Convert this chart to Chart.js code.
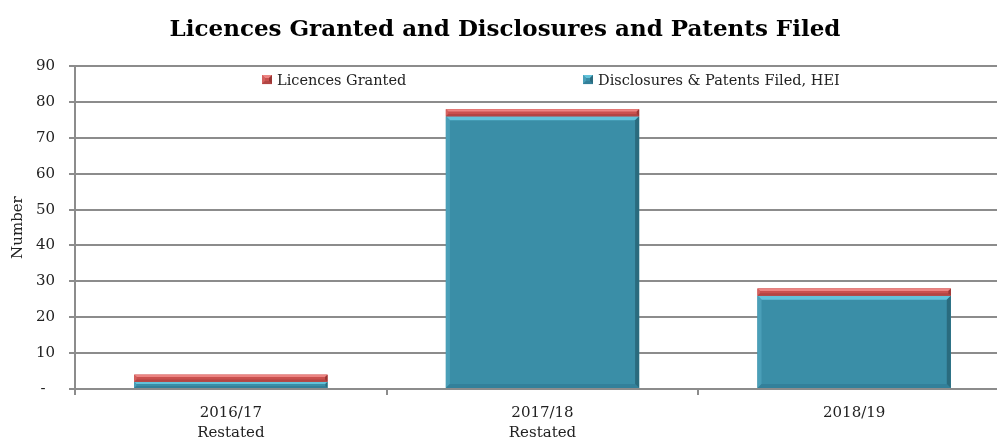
<!DOCTYPE html>
<html>
<head>
<meta charset="utf-8">
<script src="https://cdn.jsdelivr.net/npm/chart.js@4/dist/chart.umd.min.js"></script>
<style>
   html, body { margin: 0; padding: 0; background: #fff; overflow: hidden; }
   #wrap { width: 1010px; height: 438px; }
</style>
</head>
<body>
<div id="wrap"><canvas id="chart" width="1010" height="438"></canvas></div>
<script>
// -----------------------------------------------------------------------------
// data
// -----------------------------------------------------------------------------
var years       = [['2016/17', 'Restated'], ['2017/18', 'Restated'], '2018/19'];
var disclosures = [2, 76, 26];
var licences    = [2, 2, 2];
var yTicks      = [0, 10, 20, 30, 40, 50, 60, 70, 80, 90];

var FONT = '"DejaVu Serif", "Liberation Serif", serif';

// bar colours: main fill, light top edge, light left edge, dark right edge, bottom edge
var tealFill = {main: '#3a8ea7', light: '#62c2da', side: '#4a9fb8', dark: '#2a6b7e', low: '#33809a'};
var redFill  = {main: '#c9504e', light: '#ec8482', side: '#d4605e', dark: '#9a3634', low: '#b24543'};

// draws a bevelled rectangle (top light, right side dark)
function bevelRect(ctx, left, top, right, bottom, c) {
   var h = bottom - top;
   var b = Math.min(4, h / 3);
   ctx.save();
   ctx.fillStyle = c.main;
   ctx.fillRect(left, top, right - left, h);

   ctx.fillStyle = c.light;
   ctx.beginPath();
   ctx.moveTo(left, top); ctx.lineTo(right, top);
   ctx.lineTo(right - b, top + b); ctx.lineTo(left + b, top + b);
   ctx.closePath(); ctx.fill();

   ctx.fillStyle = c.side;
   ctx.beginPath();
   ctx.moveTo(left, top); ctx.lineTo(left + b, top + b);
   ctx.lineTo(left + b, bottom - b); ctx.lineTo(left, bottom);
   ctx.closePath(); ctx.fill();

   ctx.fillStyle = c.low;
   ctx.beginPath();
   ctx.moveTo(left, bottom); ctx.lineTo(right, bottom);
   ctx.lineTo(right - b, bottom - b); ctx.lineTo(left + b, bottom - b);
   ctx.closePath(); ctx.fill();

   ctx.fillStyle = c.dark;
   ctx.beginPath();
   ctx.moveTo(right, top); ctx.lineTo(right, bottom);
   ctx.lineTo(right - b, bottom - b); ctx.lineTo(right - b, top + b);
   ctx.closePath(); ctx.fill();
   ctx.restore();
}

// replace the flat bars by bevelled ones
var bevelBars = {
   id: 'bevelBars',
   afterDatasetsDraw: function(chart) {
      var ctx = chart.ctx;
      chart.data.datasets.forEach(function(ds, i) {
         var meta = chart.getDatasetMeta(i);
         meta.data.forEach(function(bar) {
            var p = bar.getProps(['x', 'y', 'base', 'width'], true);
            var top = Math.min(p.y, p.base), bottom = Math.max(p.y, p.base);
            bevelRect(ctx, p.x - p.width / 2, top, p.x + p.width / 2, bottom, ds.bevel);
         });
      });
   }
};

// legend drawn inside the plot area, top series first
var innerLegend = {
   id: 'innerLegend',
   afterDraw: function(chart) {
      var ctx = chart.ctx;
      var area = chart.chartArea;
      var xs = [area.left + 187, area.left + 508];
      var items = chart.data.datasets.slice().reverse();
      ctx.save();
      ctx.font = '14.5px ' + FONT;
      ctx.textBaseline = 'alphabetic';
      items.forEach(function(ds, i) {
         var x = xs[i], y = area.top + 9;
         bevelRect(ctx, x, y, x + 10, y + 9, ds.bevel);
         ctx.fillStyle = '#222';
         ctx.fillText(ds.label, x + 15, area.top + 19);
      });
      ctx.restore();
   }
};

var chart = new Chart(document.getElementById('chart'), {
   type: 'bar',
   data: {
      labels: years,
      datasets: [{
         label: 'Disclosures & Patents Filed, HEI',
         data: disclosures,
         backgroundColor: tealFill.main,
         bevel: tealFill
      }, {
         label: 'Licences Granted',
         data: licences,
         backgroundColor: redFill.main,
         bevel: redFill
      }]
   },
   options: {
      responsive: false,
      animation: false,
      devicePixelRatio: 1,
      layout: { padding: 0 },
      categoryPercentage: 1,
      barPercentage: 0.62,
      plugins: {
         legend: { display: false },
         tooltip: { enabled: false },
         title: {
            display: true,
            text: 'Licences Granted and Disclosures and Patents Filed',
            color: '#000',
            font: { family: FONT, size: 23, weight: 'bold' },
            padding: { top: 16, bottom: 22.5 },
            fullSize: true
         }
      },
      scales: {
         x: {
            stacked: true,
            grid: {
               offset: true,
               drawOnChartArea: false,
               drawTicks: true,
               tickLength: 6,
               color: '#8c8c8c',
               lineWidth: 2
            },
            border: { color: '#8c8c8c', width: 2 },
            ticks: {
               color: '#222',
               font: { family: FONT, size: 15, lineHeight: 1.35 },
               padding: 8,
               maxRotation: 0
            },
            afterFit: function(scale) { scale.height = 49; }
         },
         y: {
            stacked: true,
            min: 0,
            max: 90,
            afterBuildTicks: function(scale) {
               scale.ticks = yTicks.map(function(v) { return {value: v}; });
            },
            grid: {
               color: '#8c8c8c',
               lineWidth: 2,
               tickLength: 6
            },
            border: { color: '#8c8c8c', width: 2 },
            ticks: {
               color: '#222',
               font: { family: FONT, size: 15 },
               padding: 14,
               callback: function(v) { return v === 0 ? '-  ' : v; }
            },
            title: {
               display: true,
               text: 'Number',
               color: '#222',
               font: { family: FONT, size: 15 },
               padding: { top: 9, bottom: 4 }
            },
            afterFit: function(scale) { scale.width = 75; }
         }
      }
   },
   plugins: [bevelBars, innerLegend]
});
</script>
</body>
</html>
